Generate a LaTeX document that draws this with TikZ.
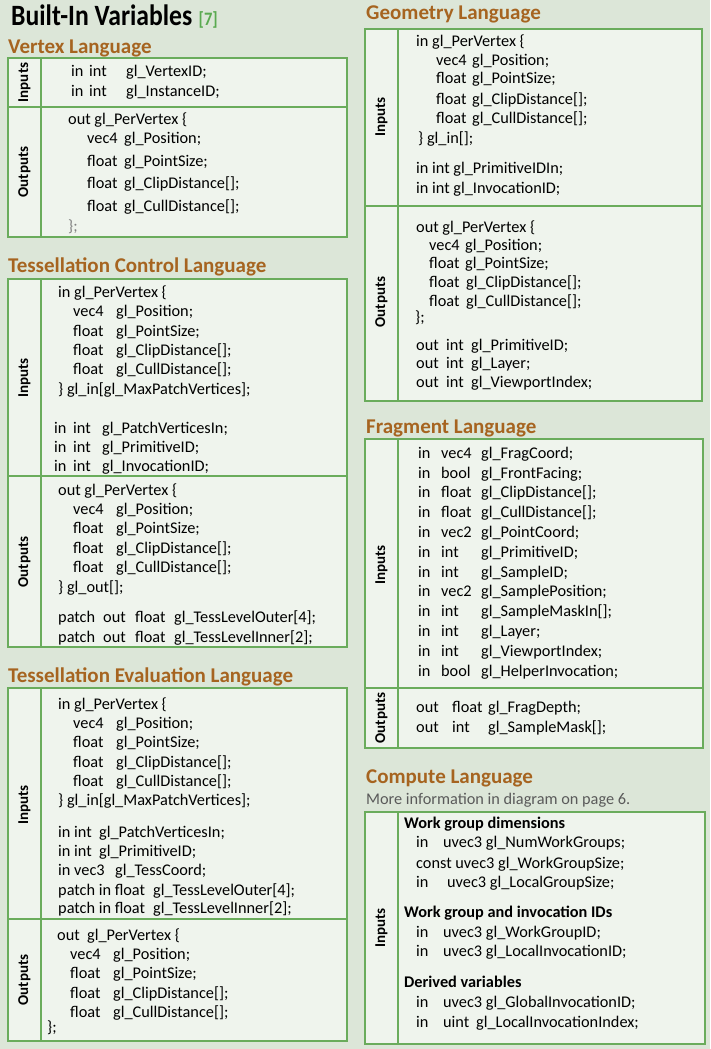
\documentclass[tikz,border=0pt]{standalone}
\usepackage{fontspec}
\setmainfont{Carlito}
\newfontfamily\titlefont[FakeStretch=0.87]{Carlito}
\usepackage{xcolor}

\definecolor{pagebg}{RGB}{220,230,216}
\definecolor{panelfill}{RGB}{239,244,237}
\definecolor{panelgreen}{RGB}{106,172,92}
\definecolor{headbrown}{RGB}{166,100,32}
\definecolor{refgreen}{RGB}{90,170,80}
\definecolor{notegray}{RGB}{90,90,90}

\newcommand{\codesize}{\fontsize{16.3}{19}\selectfont}
\newcommand{\fld}[2]{\makebox[#1pt][l]{#2}}

\begin{document}
\begin{tikzpicture}[x=1pt,y=-1pt,
  code/.style={anchor=base west, inner sep=0pt, font=\codesize},
  head/.style={anchor=base west, inner sep=0pt, text=headbrown, font=\fontsize{21}{24}\selectfont\bfseries},
  side/.style={rotate=90, inner sep=0pt, font=\fontsize{15}{17}\selectfont\bfseries},
  panel/.style={draw=panelgreen, fill=panelfill, line width=1.2pt},
  rule/.style={draw=panelgreen, line width=1.2pt}]
\useasboundingbox (0,0) rectangle (710,1049);
\fill[pagebg] (0,0) rectangle (710,1049);

% title
\node[anchor=base west, inner sep=0pt, font=\titlefont\fontsize{29.5}{32}\selectfont\bfseries] (title) at (11,26) {Built-In Variables};
\node[anchor=base west, inner sep=0pt, text=refgreen, font=\titlefont\fontsize{19}{22}\selectfont\bfseries] (ref) at ([xshift=6pt]title.base east) {[7]};

% vertex
\node[head] (vtxh) at (8,53) {Vertex Language};
\draw[panel] (8,58) rectangle (347,237);
\draw[rule] (41,58) -- (41,237);
\draw[rule] (8,107) -- (347,107);
\node[side] (vtxin) at (24.5,82.5) {Inputs};
\node[side] (vtxout) at (24.5,172) {Outputs};
\foreach \x/\y/\txt [count=\i] in {
  71/77/{\fld{18}{in}\fld{37}{int}gl\_VertexID;},
  71/96/{\fld{18}{in}\fld{37}{int}gl\_InstanceID;},
  68/124/{out gl\_PerVertex \{},
  87/143/{\fld{37}{vec4}gl\_Position;},
  87/166/{\fld{37}{float}gl\_PointSize;},
  87/188/{\fld{37}{float}gl\_ClipDistance[];},
  87/211/{\fld{37}{float}gl\_CullDistance[];},
  68/231/{\textcolor{gray}{\};}}}
  \node[code] (vtx\i) at (\x,\y) {\txt};

% tessellation control
\node[head] (tch) at (8,272) {Tessellation Control Language};
\draw[panel] (8,279) rectangle (347,647);
\draw[rule] (41,279) -- (41,647);
\draw[rule] (8,476) -- (347,476);
\node[side] (tcin) at (24.5,378) {Inputs};
\node[side] (tcout) at (24.5,562) {Outputs};
\foreach \x/\y/\txt [count=\i] in {
  58/297/{in gl\_PerVertex \{},
  73/316/{\fld{43}{vec4}gl\_Position;},
  73/336/{\fld{43}{float}gl\_PointSize;},
  73/355/{\fld{43}{float}gl\_ClipDistance[];},
  73/374/{\fld{43}{float}gl\_CullDistance[];},
  58/394/{\} gl\_in[gl\_MaxPatchVertices];},
  54/433/{\fld{19}{in}\fld{29}{int}gl\_PatchVerticesIn;},
  54/452/{\fld{19}{in}\fld{29}{int}gl\_PrimitiveID;},
  54/471/{\fld{19}{in}\fld{29}{int}gl\_InvocationID;},
  58/495/{out gl\_PerVertex \{},
  73/514/{\fld{43}{vec4}gl\_Position;},
  73/533/{\fld{43}{float}gl\_PointSize;},
  73/553/{\fld{43}{float}gl\_ClipDistance[];},
  73/572/{\fld{43}{float}gl\_CullDistance[];},
  58/592/{\} gl\_out[];},
  58/622/{\fld{45}{patch}\fld{32}{out}\fld{39}{float}gl\_TessLevelOuter[4];},
  58/642/{\fld{45}{patch}\fld{32}{out}\fld{39}{float}gl\_TessLevelInner[2];}}
  \node[code] (tc\i) at (\x,\y) {\txt};

% tessellation evaluation
\node[head] (teh) at (8,682) {Tessellation Evaluation Language};
\draw[panel] (8,688) rectangle (347,1041);
\draw[rule] (41,688) -- (41,1041);
\draw[rule] (8,919) -- (347,919);
\node[side] (tein) at (24.5,805) {Inputs};
\node[side] (teout) at (24.5,980) {Outputs};
\foreach \x/\y/\txt [count=\i] in {
  58/709/{in gl\_PerVertex \{},
  73/728/{\fld{43}{vec4}gl\_Position;},
  73/747/{\fld{43}{float}gl\_PointSize;},
  73/767/{\fld{43}{float}gl\_ClipDistance[];},
  73/786/{\fld{43}{float}gl\_CullDistance[];},
  58/805/{\} gl\_in[gl\_MaxPatchVertices];},
  58/837/{\fld{41}{in int}gl\_PatchVerticesIn;},
  58/856/{\fld{41}{in int}gl\_PrimitiveID;},
  58/875/{\fld{57}{in vec3}gl\_TessCoord;},
  58/895/{\fld{95}{patch in float}gl\_TessLevelOuter[4];},
  58/913/{\fld{95}{patch in float}gl\_TessLevelInner[2];},
  57/940/{\fld{30}{out}gl\_PerVertex \{},
  70/959/{\fld{43}{vec4}gl\_Position;},
  70/978/{\fld{43}{float}gl\_PointSize;},
  70/998/{\fld{43}{float}gl\_ClipDistance[];},
  70/1017/{\fld{43}{float}gl\_CullDistance[];},
  47/1032/{\};}}
  \node[code] (te\i) at (\x,\y) {\txt};

% geometry
\node[head] (geoh) at (366,20) {Geometry Language};
\draw[panel] (365,29) rectangle (702,401);
\draw[rule] (398,29) -- (398,401);
\draw[rule] (365,206) -- (702,206);
\node[side] (geoin) at (381.5,117) {Inputs};
\node[side] (geoout) at (381.5,302) {Outputs};
\foreach \x/\y/\txt [count=\i] in {
  416/47/{in gl\_PerVertex \{},
  436/66/{\fld{36}{vec4}gl\_Position;},
  436/84/{\fld{36}{float}gl\_PointSize;},
  436/104/{\fld{36}{float}gl\_ClipDistance[];},
  436/123/{\fld{36}{float}gl\_CullDistance[];},
  418/143/{\} gl\_in[];},
  416/173/{in int gl\_PrimitiveIDIn;},
  416/193/{in int gl\_InvocationID;},
  416/232/{out gl\_PerVertex \{},
  429/250/{\fld{36}{vec4}gl\_Position;},
  429/268/{\fld{36}{float}gl\_PointSize;},
  429/287/{\fld{37}{float}gl\_ClipDistance[];},
  429/306/{\fld{37}{float}gl\_CullDistance[];},
  415/322/{\};},
  416/350/{\fld{30}{out}\fld{25}{int}gl\_PrimitiveID;},
  416/368/{\fld{30}{out}\fld{25}{int}gl\_Layer;},
  416/387/{\fld{30}{out}\fld{25}{int}gl\_ViewportIndex;}}
  \node[code] (geo\i) at (\x,\y) {\txt};

% fragment
\node[head] (frgh) at (366,433) {Fragment Language};
\draw[panel] (365,439) rectangle (703,748);
\draw[rule] (398,439) -- (398,748);
\draw[rule] (365,688) -- (703,688);
\node[side] (frgin) at (381.5,565) {Inputs};
\node[side] (frgout) at (381.5,718) {Outputs};
\foreach \y/\ty/\txt [count=\i] in {
  458/vec4/gl\_FragCoord;,
  478/bool/gl\_FrontFacing;,
  497/float/gl\_ClipDistance[];,
  517/float/gl\_CullDistance[];,
  537/vec2/gl\_PointCoord;,
  557/int/gl\_PrimitiveID;,
  577/int/gl\_SampleID;,
  596/vec2/gl\_SamplePosition;,
  616/int/gl\_SampleMaskIn[];,
  636/int/gl\_Layer;,
  656/int/gl\_ViewportIndex;,
  676/bool/gl\_HelperInvocation;}
  \node[code] (frg\i) at (418,\y) {\fld{23}{in}\fld{40}{\ty}\txt};
\node[code] (frgo1) at (416,712) {\fld{36}{out}\fld{36}{float}gl\_FragDepth;};
\node[code] (frgo2) at (416,732) {\fld{36}{out}\fld{36}{int}gl\_SampleMask[];};

% compute
\node[head] (cmph) at (366,783) {Compute Language};
\node[code, text=notegray] (cmpnote) at (366,804) {More information in diagram on page 6.};
\draw[panel] (365,812) rectangle (705,1044);
\draw[rule] (398,812) -- (398,1044);
\node[side] (cmpin) at (381.5,928) {Inputs};
\foreach \x/\y/\txt [count=\i] in {
  404/828/{\bfseries Work group dimensions},
  416/847/{\fld{27}{in}uvec3 gl\_NumWorkGroups;},
  416/868/{const uvec3 gl\_WorkGroupSize;},
  416/887/{\fld{31}{in}uvec3 gl\_LocalGroupSize;},
  404/917/{\bfseries Work group and invocation IDs},
  416/937/{\fld{27}{in}uvec3 gl\_WorkGroupID;},
  416/956/{\fld{27}{in}uvec3 gl\_LocalInvocationID;},
  404/987/{\bfseries Derived variables},
  416/1007/{\fld{27}{in}uvec3 gl\_GlobalInvocationID;},
  416/1027/{\fld{27}{in}\fld{33}{uint}gl\_LocalInvocationIndex;}}
  \node[code] (cmp\i) at (\x,\y) {\txt};
\end{tikzpicture}
\end{document}
